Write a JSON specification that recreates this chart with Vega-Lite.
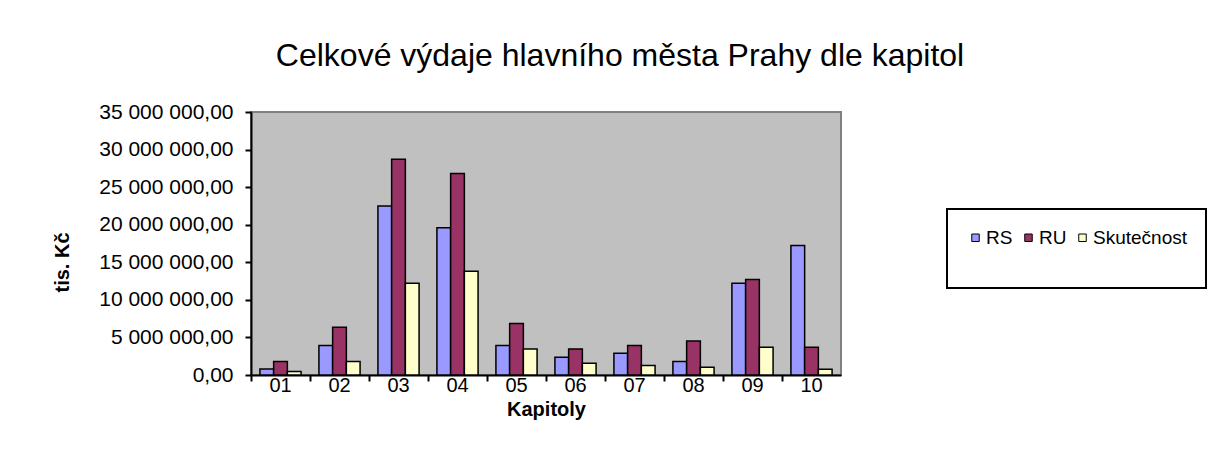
{
  "$schema": "https://vega.github.io/schema/vega-lite/v6.json",
  "autosize": "none",
  "padding": {"left": 251, "top": 112, "right": 379, "bottom": 97},
  "width": 590,
  "height": 263,
  "background": "white",
  "title": {
    "text": "Celkové výdaje hlavního města Prahy dle kapitol",
    "font": "Liberation Sans",
    "fontSize": 32,
    "fontWeight": "normal",
    "color": "black",
    "anchor": "middle",
    "dx": 74,
    "offset": 28
  },
  "data": {
    "values": [
      {"kapitola": "01", "serie": "RS", "hodnota": 800000},
      {"kapitola": "01", "serie": "RU", "hodnota": 1800000},
      {"kapitola": "01", "serie": "Skutečnost", "hodnota": 480000},
      {"kapitola": "02", "serie": "RS", "hodnota": 3940000},
      {"kapitola": "02", "serie": "RU", "hodnota": 6340000},
      {"kapitola": "02", "serie": "Skutečnost", "hodnota": 1800000},
      {"kapitola": "03", "serie": "RS", "hodnota": 22500000},
      {"kapitola": "03", "serie": "RU", "hodnota": 28700000},
      {"kapitola": "03", "serie": "Skutečnost", "hodnota": 12200000},
      {"kapitola": "04", "serie": "RS", "hodnota": 19600000},
      {"kapitola": "04", "serie": "RU", "hodnota": 26800000},
      {"kapitola": "04", "serie": "Skutečnost", "hodnota": 13800000},
      {"kapitola": "05", "serie": "RS", "hodnota": 3940000},
      {"kapitola": "05", "serie": "RU", "hodnota": 6870000},
      {"kapitola": "05", "serie": "Skutečnost", "hodnota": 3460000},
      {"kapitola": "06", "serie": "RS", "hodnota": 2350000},
      {"kapitola": "06", "serie": "RU", "hodnota": 3460000},
      {"kapitola": "06", "serie": "Skutečnost", "hodnota": 1550000},
      {"kapitola": "07", "serie": "RS", "hodnota": 2880000},
      {"kapitola": "07", "serie": "RU", "hodnota": 3940000},
      {"kapitola": "07", "serie": "Skutečnost", "hodnota": 1280000},
      {"kapitola": "08", "serie": "RS", "hodnota": 1800000},
      {"kapitola": "08", "serie": "RU", "hodnota": 4520000},
      {"kapitola": "08", "serie": "Skutečnost", "hodnota": 1020000},
      {"kapitola": "09", "serie": "RS", "hodnota": 12200000},
      {"kapitola": "09", "serie": "RU", "hodnota": 12700000},
      {"kapitola": "09", "serie": "Skutečnost", "hodnota": 3680000},
      {"kapitola": "10", "serie": "RS", "hodnota": 17250000},
      {"kapitola": "10", "serie": "RU", "hodnota": 3680000},
      {"kapitola": "10", "serie": "Skutečnost", "hodnota": 750000}
    ]
  },
  "mark": {"type": "bar", "stroke": "black", "strokeWidth": 1.5},
  "encoding": {
    "x": {
      "field": "kapitola",
      "type": "nominal",
      "scale": {"paddingInner": 0, "paddingOuter": 0},
      "axis": {
        "title": "Kapitoly",
        "labelAngle": 0,
        "bandPosition": 0,
        "labelFont": "Liberation Sans",
        "labelFontSize": 20,
        "labelColor": "black",
        "labelPadding": -6,
        "labelOffset": 0,
        "titleFont": "Liberation Sans",
        "titleFontSize": 20,
        "titleFontWeight": "bold",
        "titleColor": "black",
        "titlePadding": 4,
        "domainColor": "black",
        "domainWidth": 2,
        "tickColor": "black",
        "tickWidth": 2,
        "tickSize": 6
      }
    },
    "xOffset": {
      "field": "serie",
      "type": "nominal",
      "scale": {"domain": ["RS", "RU", "Skutečnost"], "paddingInner": 0, "paddingOuter": 0.65}
    },
    "y": {
      "field": "hodnota",
      "type": "quantitative",
      "scale": {"domain": [0, 35000000], "nice": false},
      "axis": {
        "title": "tis. Kč",
        "values": [0, 5000000, 10000000, 15000000, 20000000, 25000000, 30000000, 35000000],
        "labelExpr": "replace(replace(format(datum.value, ',.2f'), regexp(',', 'g'), ' '), '.', ',')",
        "labelFont": "Liberation Sans",
        "labelFontSize": 21,
        "labelColor": "black",
        "labelPadding": 12,
        "grid": false,
        "titleFont": "Liberation Sans",
        "titleFontSize": 20,
        "titleFontWeight": "bold",
        "titleColor": "black",
        "titleX": -189,
        "titleY": 150,
        "titleAngle": 270,
        "titleAlign": "center",
        "titleBaseline": "middle",
        "domainColor": "black",
        "domainWidth": 2,
        "tickColor": "black",
        "tickWidth": 2,
        "tickSize": 6
      }
    },
    "color": {
      "field": "serie",
      "type": "nominal",
      "scale": {"domain": ["RS", "RU", "Skutečnost"], "range": ["#9999ff", "#993366", "#ffffcc"]},
      "legend": {
        "title": " ",
        "titleOrient": "bottom",
        "titleFontSize": 1,
        "titlePadding": 20,
        "orient": "none",
        "direction": "horizontal",
        "legendX": 696,
        "legendY": 97,
        "padding": 19,
        "strokeColor": "black",
        "fillColor": "white",
        "symbolType": "square",
        "symbolSize": 56,
        "symbolStrokeColor": "black",
        "symbolStrokeWidth": 1,
        "symbolOpacity": 1,
        "labelFont": "Liberation Sans",
        "labelFontSize": 19,
        "labelColor": "black",
        "labelOffset": 1,
        "columnPadding": 6
      }
    }
  },
  "config": {
    "view": {"fill": "#c0c0c0", "stroke": "#808080", "strokeWidth": 2},
    "legend": {"strokeWidth": 2}
  }
}
